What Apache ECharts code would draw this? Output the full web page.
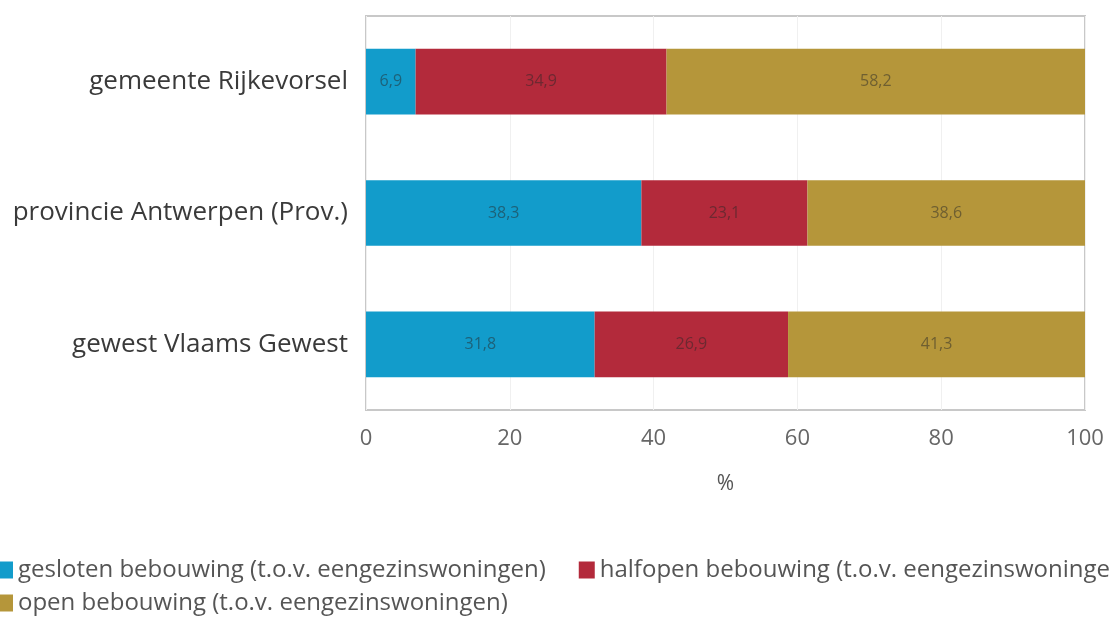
<!DOCTYPE html>
<html><head><meta charset="utf-8">
<script src="https://cdn.jsdelivr.net/npm/echarts@6/dist/echarts.min.js"></script>
<style>html,body{margin:0;padding:0;background:#fff}#c{width:1112px;height:624px}</style>
</head><body><div id="c"></div>
<script>
const categories = ['gemeente Rijkevorsel', 'provincie Antwerpen (Prov.)', 'gewest Vlaams Gewest'];
const gesloten = [6.9, 38.3, 31.8];
const halfopen = [34.9, 23.1, 26.9];
const open = [58.2, 38.6, 41.3];
const seriesNames = ['gesloten bebouwing (t.o.v. eengezinswoningen)', 'halfopen bebouwing (t.o.v. eengezinswoningen)', 'open bebouwing (t.o.v. eengezinswoningen)'];
const xTicks = [0, 20, 40, 60, 80, 100];
const colors = ['#129ccb', '#b32a3b', '#b5963a'];
const FONT = 'Open Sans';
const chart = echarts.init(document.getElementById('c'));
const lbl = {show: true, position: 'inside', color: 'rgba(40,40,40,0.5)', fontSize: 16, fontFamily: FONT,
  formatter: p => String(p.value).replace('.', ',')};
const data = [gesloten, halfopen, open];
const legendBase = {
  left: -8, width: 1200, itemWidth: 16, itemHeight: 17, itemGap: 33,
  icon: 'rect', textStyle: {fontSize: 24, color: '#555', fontFamily: FONT}
};
chart.setOption({
  animation: false,
  color: colors,
  grid: {left: 366, right: 27, top: 16, bottom: 214, show: true, borderColor: '#c8c8c8', borderWidth: 2},
  legend: [
    Object.assign({}, legendBase, {top: 553, data: seriesNames.slice(0, 2)}),
    Object.assign({}, legendBase, {top: 586, data: seriesNames.slice(2)})
  ],
  xAxis: {
    type: 'value', min: xTicks[0], max: xTicks[xTicks.length - 1], interval: 20,
    name: '%', nameLocation: 'middle', nameGap: 64,
    nameTextStyle: {fontSize: 21, color: '#555', fontFamily: FONT},
    axisLabel: {fontSize: 22, color: '#666', margin: 18, fontFamily: FONT},
    axisLine: {show: false}, axisTick: {show: false},
    splitLine: {show: true, lineStyle: {color: '#f0f0f0'}}
  },
  yAxis: {
    type: 'category', data: categories, inverse: true,
    axisLabel: {fontSize: 26, color: '#3a3a3a', margin: 18, fontFamily: FONT},
    axisLine: {show: false}, axisTick: {show: false}
  },
  series: seriesNames.map((n, i) => ({
    name: n, type: 'bar', stack: 'a', barWidth: '50%', data: data[i], label: lbl
  }))
});
</script></body></html>
